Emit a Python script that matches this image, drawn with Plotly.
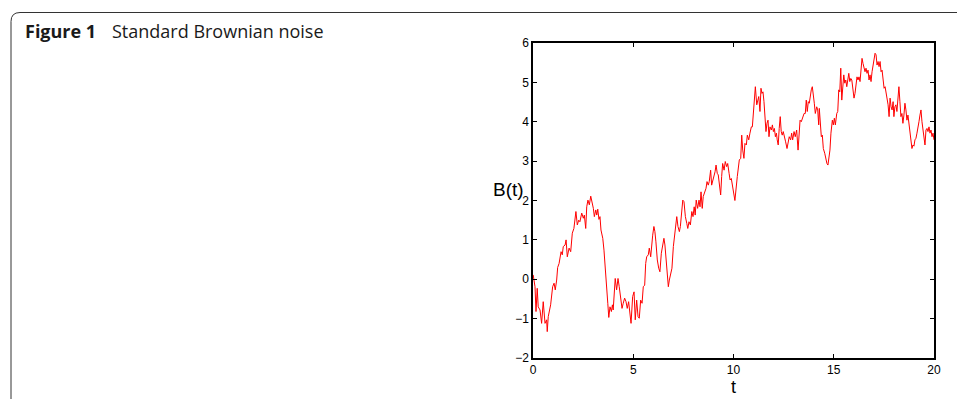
import plotly.graph_objects as go

# ---- data ----
t_vals = [
    0.01,0.10,0.15,0.21,0.26,0.35,0.43,0.51,0.60,0.68,0.71,0.76,0.88,0.98,1.05,1.11,1.18,1.23,1.30,1.35,
    1.40,1.46,1.51,1.60,1.65,1.71,1.80,1.88,1.96,2.04,2.09,2.14,2.21,2.28,2.34,2.43,2.51,2.56,2.63,2.68,
    2.74,2.81,2.88,2.94,3.01,3.06,3.13,3.18,3.23,3.29,3.34,3.39,3.48,3.54,3.61,3.68,3.73,3.78,3.84,3.91,
    3.96,4.00,4.05,4.10,4.17,4.24,4.30,4.37,4.44,4.50,4.57,4.64,4.70,4.77,4.84,
    4.89,4.97,5.04,5.10,5.17,5.24,5.30,5.37,5.44,5.50,5.57,5.62,5.67,5.75,5.80,5.87,5.92,5.97,6.03,6.08,
    6.13,6.20,6.27,6.33,6.40,6.47,6.53,6.58,6.63,6.70,6.75,6.80,6.87,6.93,7.00,7.07,7.13,7.17,7.23,7.30,
    7.35,7.42,7.47,7.53,7.60,7.67,7.72,7.78,7.85,7.92,7.98,8.04,8.09,8.14,8.21,8.28,8.33,8.38,8.44,8.49,
    8.56,8.63,8.68,8.74,8.79,8.86,8.91,8.98,9.03,9.08,9.13,9.19,9.24,9.29,9.36,9.41,9.46,9.53,9.59,9.66,
    9.71,9.78,9.83,9.89,9.96,10.02,10.07,
    10.19,10.24,10.29,10.36,10.41,10.46,10.52,10.57,10.64,10.69,10.76,10.82,10.89,10.94,10.99,11.04,11.09,
    11.16,11.21,11.26,11.32,11.37,11.42,11.47,11.52,11.57,11.62,11.67,11.72,11.77,11.82,11.89,11.94,11.99,
    12.04,12.09,12.14,12.18,12.23,12.28,12.33,12.38,12.43,12.48,12.55,12.60,12.67,12.73,12.78,12.85,12.90,
    12.95,13.02,13.08,13.15,13.22,13.27,13.32,13.38,13.45,13.52,13.58,13.63,13.68,13.73,13.78,13.83,13.88,
    13.93,13.98,14.03,14.08,14.15,14.20,14.25,14.28,14.33,14.38,14.43,14.48,14.55,14.60,14.66,14.71,14.76,14.81,
    14.86,14.93,14.98,15.03,15.08,15.15,15.20,15.25,15.30,15.35,15.40,15.45,15.50,15.55,15.60,15.65,15.70,
    15.75,15.80,15.85,15.90,15.95,16.01,16.06,16.11,16.16,16.21,16.26,16.31,16.36,16.41,16.46,16.51,16.56,
    16.61,16.66,16.71,16.76,16.81,16.86,16.91,16.96,17.01,17.06,17.11,17.16,17.21,17.26,17.31,17.36,17.41,
    17.46,17.51,17.56,17.61,17.66,17.71,17.76,17.81,17.86,17.91,17.96,18.00,18.05,18.10,18.15,18.20,18.25,
    18.30,18.35,18.40,18.45,18.50,18.55,18.60,18.65,18.70,18.75,18.80,18.85,18.90,18.95,19.00,19.05,19.10,
    19.15,19.20,19.25,19.30,19.35,19.40,19.45,19.50,19.55,19.60,19.65,19.70,19.75,19.80,19.85,19.90,19.95,20.00,
]

b_vals = [
    0.11,-0.19,-0.82,-0.23,-0.70,-0.78,-1.12,-0.57,-1.12,-1.03,-1.33,-0.95,-0.65,-0.19,-0.10,-0.27,-0.02,0.30,0.40,0.53,
    0.70,0.62,0.83,0.87,1.00,0.57,0.79,0.70,1.17,1.29,1.46,1.72,1.38,1.50,1.46,1.68,1.55,1.63,1.29,1.84,
    2.01,1.89,2.11,1.97,1.80,1.59,1.76,1.63,1.78,1.52,1.59,1.25,1.04,0.74,0.32,-0.19,-0.61,-0.97,-0.70,-0.82,
    -0.65,-0.78,-0.36,0.02,-0.27,0.02,-0.19,-0.48,-0.74,-0.61,-0.48,-0.57,-0.74,-0.57,-0.82,
    -1.12,-0.44,-0.32,-1.03,-0.53,-0.95,-0.99,-0.53,-0.61,-0.19,-0.15,0.40,0.57,0.62,0.79,0.57,1.00,1.12,1.34,1.21,
    0.95,0.49,0.28,0.19,0.66,0.91,1.04,0.87,0.57,0.06,-0.19,-0.02,0.19,0.28,0.83,1.12,1.34,1.59,1.34,1.21,
    1.34,1.68,2.01,1.97,1.59,1.42,1.29,1.46,1.38,1.72,1.59,1.84,1.63,2.01,1.80,2.01,1.84,2.22,1.80,2.10,
    2.22,2.31,2.48,2.39,2.48,2.77,2.39,2.52,2.65,2.73,2.90,2.69,2.65,2.44,2.14,2.61,2.94,2.77,2.99,2.86,
    2.94,2.69,2.52,2.56,2.35,2.14,2.00,
    2.61,2.77,3.03,3.07,3.66,3.28,3.07,3.45,3.41,3.66,3.54,3.71,3.87,3.87,4.30,4.64,4.89,
    4.43,4.51,4.64,4.26,4.85,4.72,4.76,4.51,4.13,3.75,3.96,4.04,3.62,3.87,3.79,3.92,3.75,
    3.83,3.62,3.71,3.54,3.41,3.83,4.13,3.75,3.66,3.75,3.62,3.49,3.32,3.49,3.62,3.54,3.71,
    3.54,3.75,3.62,3.79,3.28,3.75,4.04,4.00,4.09,4.21,4.21,4.55,4.26,4.51,4.47,4.68,4.81,
    4.89,4.72,4.47,4.21,4.38,4.30,3.92,4.34,3.83,3.62,3.66,3.32,3.20,3.03,2.94,2.90,3.11,3.28,
    3.71,4.04,3.92,4.09,3.92,4.21,4.26,4.81,4.76,5.36,4.55,4.98,5.19,4.98,5.06,4.89,5.06,
    5.23,5.02,5.10,5.06,4.89,4.60,4.72,4.93,5.14,5.06,5.14,5.02,5.36,5.61,5.48,5.40,5.27,
    5.36,5.23,5.31,5.06,5.19,5.02,5.27,5.40,5.53,5.74,5.70,5.44,5.53,5.40,5.53,5.27,5.31,
    4.98,4.85,4.89,4.72,4.64,4.43,4.13,4.60,4.38,4.30,4.51,4.13,4.38,4.43,4.26,4.64,4.89,
    4.51,4.13,4.21,3.96,4.17,4.47,4.30,4.04,4.17,3.96,3.66,3.54,3.32,3.41,3.38,3.54,3.58,
    3.71,3.83,4.00,4.17,4.30,4.00,3.83,3.62,3.41,3.79,3.83,3.75,3.87,3.71,3.79,3.62,3.71,3.54,
]

assert len(t_vals) == len(b_vals), (len(t_vals), len(b_vals))

x_ticks = [0, 5, 10, 15, 20]
y_ticks = [-2, -1, 0, 1, 2, 3, 4, 5, 6]

caption_bold = "Figure 1"
caption_text = "Standard Brownian noise"
y_title = "B(t)"
x_title = "t"

# ---- layout geometry (pixels) ----
W, H = 957, 399
L, R, T, B = 533, 934, 43, 358
pw, ph = R - L, B - T

def px(x):
    return (x - L) / pw

def py(y):
    return (B - y) / ph

fig = go.Figure()
fig.add_trace(go.Scatter(
    x=t_vals, y=b_vals, mode="lines",
    line=dict(color="#ff0000", width=1),
    showlegend=False, hoverinfo="skip",
))

axis_common = dict(
    showgrid=False, zeroline=False, showline=True, linecolor="black", linewidth=1.5,
    mirror="ticks", ticks="inside", ticklen=4, tickwidth=1, tickcolor="black",
    tickfont=dict(family="Liberation Sans, Arial, sans-serif", size=12, color="black"),
)

fig.update_xaxes(range=[0, 20], tickvals=x_ticks, **axis_common)
fig.update_yaxes(range=[-2, 6], tickvals=y_ticks, **axis_common)

# rounded panel border
x0, y0t, x1, y0b, r = 11, 12.5, 965, 405, 9
path = (f"M {px(x0)},{py(y0b)} L {px(x0)},{py(y0t + r)} "
        f"Q {px(x0)},{py(y0t)} {px(x0 + r)},{py(y0t)} L {px(x1)},{py(y0t)}")

cap_font = dict(family="Open Sans, Noto Sans, sans-serif", size=18, color="#1a1a1a")

fig.update_layout(
    width=W, height=H,
    margin=dict(l=L, r=W - R, t=T, b=H - B, pad=0),
    paper_bgcolor="white", plot_bgcolor="white",
    shapes=[dict(type="path", xref="paper", yref="paper", path=path,
                 line=dict(color="#333333", width=1))],
    annotations=[
        dict(text=f"<b>{caption_bold}</b>", xref="paper", yref="paper",
             x=px(23), y=py(31), xanchor="left", yanchor="middle", showarrow=False,
             font=cap_font),
        dict(text=caption_text, xref="paper", yref="paper",
             x=px(110), y=py(31), xanchor="left", yanchor="middle", showarrow=False,
             font=cap_font),
        dict(text=y_title, xref="paper", yref="paper",
             x=px(526), y=py(189), xanchor="right", yanchor="middle", showarrow=False,
             font=dict(family="Liberation Sans, Arial, sans-serif", size=19, color="black")),
        dict(text=x_title, xref="paper", yref="paper",
             x=px(733), y=py(375), xanchor="center", yanchor="top", showarrow=False,
             font=dict(family="Liberation Sans, Arial, sans-serif", size=18, color="black")),
    ],
)

fig.write_html("out.html")
